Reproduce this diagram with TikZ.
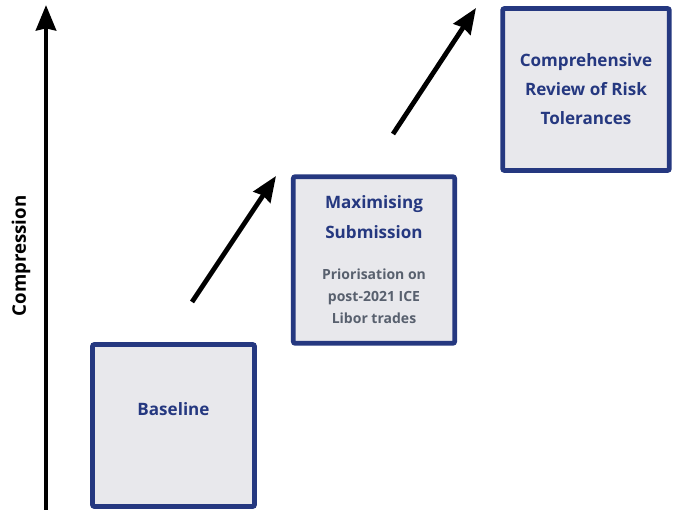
\documentclass[tikz,border=0pt]{standalone}
\usepackage{fontspec}
\setmainfont{Open Sans}
\usepackage{tikz}
\usetikzlibrary{positioning,arrows.meta}
\definecolor{boxnavy}{RGB}{37,56,128}
\definecolor{boxgray}{RGB}{232,232,236}
\definecolor{subgray}{RGB}{88,96,110}
\newcommand{\subtext}[1]{{\fontsize{10.5}{15.75}\selectfont\color{subgray}#1}}

\begin{document}
\begin{tikzpicture}[
      x=0.75pt, y=0.75pt,
      stage/.style={draw=boxnavy, line width=3.6pt, rounded corners=1.5pt, fill=boxgray,
                    align=center, text=boxnavy, font=\fontsize{12.8}{21.8}\selectfont\bfseries,
                    inner sep=0pt},
      arr/.style={-{Stealth[length=19pt, width=15pt, inset=1.5pt]}, line width=3.6pt, black}
  ]
  \useasboundingbox (0,0) rectangle (678,510);

  %% ---- Stages, bottom-left to top-right
  \node[stage, minimum width=121.5pt, minimum height=121.5pt, text depth=24pt] (base) at (173.5,84.5) {Baseline};
  \node[stage, minimum width=121pt, minimum height=125pt] (maxsub) at (374,250)
        {Maximising\\Submission\\[9pt]\subtext{Priorisation on}\\[-5pt]\subtext{post-2021 ICE}\\[-5pt]\subtext{Libor trades}};
  \node[stage, minimum width=125pt, minimum height=121.5pt] (review) at (586,420.5)
        {Comprehensive\\Review of Risk\\Tolerances};

  %% ---- Axis
  \coordinate (axbot) at (46,0);
  \coordinate (axtop) at (46,505);
  \node[rotate=90, font=\fontsize{14}{16}\selectfont\bfseries] (axlabel) at (21,254) {Compression};
  \draw[arr] (axbot) -- (axtop);

  %% ---- Step arrows
  \coordinate (s1) at (192,208);
  \coordinate (e1) at (276,334);
  \coordinate (s2) at (393,376);
  \coordinate (e2) at (476,502);
  \draw[arr] (s1) -- (e1);
  \draw[arr] (s2) -- (e2);
\end{tikzpicture}
\end{document}
